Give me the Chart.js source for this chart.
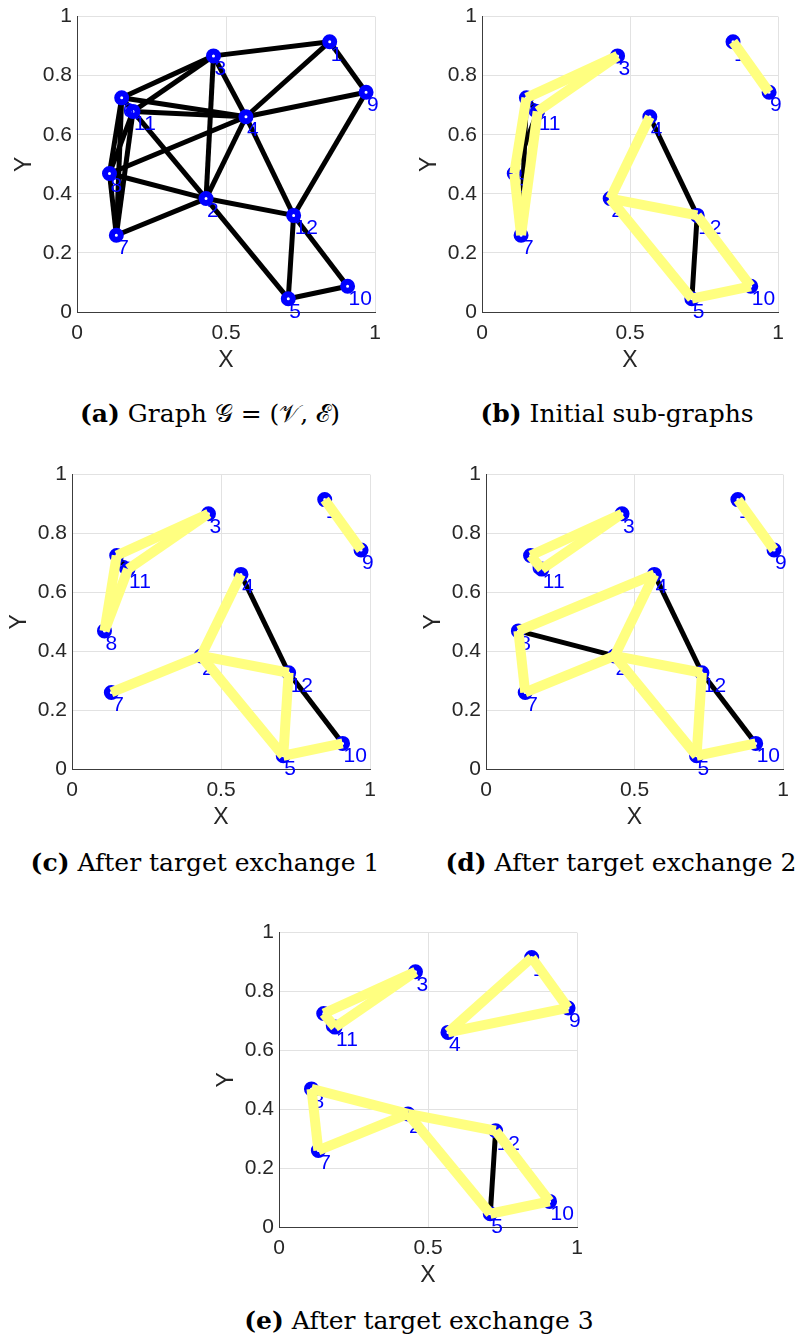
<!DOCTYPE html>
<html>
<head>
<meta charset="utf-8">
<title>Sub-graph target exchange</title>
<script src="https://cdn.jsdelivr.net/npm/chart.js@4.4.1/dist/chart.umd.min.js"></script>
<style>
  html, body { margin: 0; padding: 0; background: #ffffff; }
  body { width: 801px; height: 1342px; position: relative; overflow: hidden; }
  canvas { position: absolute; }
  .cap {
    position: absolute;
    white-space: nowrap;
    font-family: "DejaVu Serif", "Liberation Serif", serif;
    font-size: 25px;
    line-height: 30px;
    color: #000;
    transform: translateX(-50%);
  }
  .cap b { font-weight: bold; }
</style>
</head>
<body>
<canvas id="pa"></canvas>
<canvas id="pb"></canvas>
<canvas id="pc"></canvas>
<canvas id="pd"></canvas>
<canvas id="pe"></canvas>

<div class="cap" style="left:210px; top:399px;"><b>(a)</b> Graph &#x1D4A2; = (&#x1D4B1;, &#x2130;)</div>
<div class="cap" style="left:617px; top:399px;"><b>(b)</b> Initial sub-graphs</div>
<div class="cap" style="left:205px; top:848px;"><b>(c)</b> After target exchange 1</div>
<div class="cap" style="left:621px; top:848px;"><b>(d)</b> After target exchange 2</div>
<div class="cap" style="left:419px; top:1306px;"><b>(e)</b> After target exchange 3</div>

<script>
// ---- node positions ----
const nodeIds = [1, 2, 3, 4, 5, 6, 7, 8, 9, 10, 11, 12];
const nodeX = [0.848, 0.433, 0.458, 0.567, 0.709, 0.150, 0.132, 0.109, 0.970, 0.908, 0.188, 0.727];
const nodeY = [0.915, 0.384, 0.867, 0.661, 0.045, 0.725, 0.260, 0.469, 0.744, 0.087, 0.679, 0.327];

// ---- axis ticks ----
const xTicks = [0, 0.5, 1];
const xTickLabels = ['0', '0.5', '1'];
const yTicks = [0, 0.2, 0.4, 0.6, 0.8, 1];
const yTickLabels = ['0', '0.2', '0.4', '0.6', '0.8', '1'];

// ---- full graph edges ----
const edgesGraph = [
  [1, 3], [1, 4], [1, 9], [3, 6], [3, 11], [3, 2], [3, 4], [6, 4], [6, 11], [6, 8],
  [6, 7], [11, 4], [11, 2], [11, 7], [11, 8], [8, 4], [8, 2], [8, 7], [7, 2], [4, 9],
  [4, 2], [4, 12], [9, 12], [2, 12], [2, 5], [12, 5], [12, 10], [5, 10]
];

// ---- sub-graphs: tour edges (highlighted) and remaining in-group links ----
const toursInitial = [[3, 6], [6, 8], [8, 7], [7, 11], [11, 3], [4, 2], [2, 12], [2, 5], [5, 10], [10, 12], [1, 9]];
const linksInitial = [[6, 7], [11, 8], [6, 11], [4, 12], [12, 5]];

const toursSwap1 = [[3, 6], [6, 8], [8, 11], [11, 3], [7, 2], [2, 4], [2, 12], [12, 5], [5, 10], [2, 5], [1, 9]];
const linksSwap1 = [[6, 11], [4, 12], [12, 10]];

const toursSwap2 = [[3, 6], [6, 11], [11, 3], [8, 4], [8, 7], [7, 2], [2, 4], [2, 12], [12, 5], [5, 10], [2, 5], [1, 9]];
const linksSwap2 = [[8, 2], [4, 12], [12, 10]];

const toursSwap3 = [[3, 6], [6, 11], [11, 3], [4, 1], [1, 9], [9, 4], [8, 7], [7, 2], [8, 2], [2, 12], [12, 10], [10, 5], [5, 2]];
const linksSwap3 = [[12, 5]];

// ---- styling ----
const AXIS_FONT = '"Liberation Sans", Arial, Helvetica, sans-serif';
const INK = '#262626';
const BLUE = '#0000ff';
const TOUR_COLOR = 'rgb(255,255,128)';

function pointOf(id) {
  const i = nodeIds.indexOf(id);
  return { x: nodeX[i], y: nodeY[i] };
}

function edgeDatasets(edges, color, width, order) {
  return edges.map(([a, b]) => ({
    data: [pointOf(a), pointOf(b)],
    showLine: true,
    borderColor: color,
    borderWidth: width,
    borderCapStyle: 'butt',
    pointRadius: 0,
    pointHoverRadius: 0,
    clip: false,
    order: order
  }));
}

// blue node numbers, drawn right after the node markers
const nodeLabelPlugin = {
  id: 'nodeLabels',
  afterDatasetDraw(chart, args) {
    const ds = chart.data.datasets[args.index];
    if (!ds.nodeLabels) return;
    const ctx = chart.ctx;
    ctx.save();
    ctx.fillStyle = BLUE;
    ctx.font = '21px ' + AXIS_FONT;
    ctx.textAlign = 'left';
    ctx.textBaseline = 'middle';
    args.meta.data.forEach((el, i) => {
      ctx.fillText(String(ds.nodeLabels[i]), el.x + 1, el.y + 13);
    });
    ctx.restore();
  }
};

// chart-area placement of each panel on the page
const panels = [
  { canvas: 'pa', left: 77,  top: 13,  w: 298, h: 299, tours: [],           links: edgesGraph },
  { canvas: 'pb', left: 482, top: 13,  w: 296, h: 299, tours: toursInitial, links: linksInitial },
  { canvas: 'pc', left: 72,  top: 471, w: 298, h: 298, tours: toursSwap1,   links: linksSwap1 },
  { canvas: 'pd', left: 486, top: 471, w: 297, h: 298, tours: toursSwap2,   links: linksSwap2 },
  { canvas: 'pe', left: 279, top: 929, w: 298, h: 298, tours: toursSwap3,   links: linksSwap3 }
];

const Y_AXIS_W = 77, PAD_TOP = 14, PAD_RIGHT = 16, X_AXIS_H = 62;

panels.forEach(p => {
  const cv = document.getElementById(p.canvas);
  const cw = Y_AXIS_W + p.w + PAD_RIGHT;
  const ch = PAD_TOP + p.h + X_AXIS_H;
  cv.width = cw; cv.height = ch;
  cv.style.width = cw + 'px'; cv.style.height = ch + 'px';
  cv.style.left = (p.left - Y_AXIS_W) + 'px';
  cv.style.top = (p.top - PAD_TOP) + 'px';

  const nodes = {
    data: nodeIds.map(pointOf),
    nodeLabels: nodeIds,
    showLine: false,
    pointRadius: 4.5,
    pointHoverRadius: 4.5,
    pointBorderWidth: 6,
    pointBorderColor: BLUE,
    pointBackgroundColor: '#ffffff',
    clip: false,
    order: 2
  };

  const datasets = [
    ...edgeDatasets(p.tours, TOUR_COLOR, 10, 1),
    nodes,
    ...edgeDatasets(p.links, '#000000', 5, 3)
  ];

  new Chart(cv, {
    type: 'scatter',
    data: { datasets },
    plugins: [nodeLabelPlugin],
    options: {
      responsive: false,
      animation: false,
      devicePixelRatio: 1,
      events: [],
      layout: { padding: { top: PAD_TOP, right: PAD_RIGHT, left: 0, bottom: 0 } },
      plugins: { legend: { display: false }, tooltip: { enabled: false } },
      scales: {
        x: {
          type: 'linear', position: 'bottom', min: 0, max: 1,
          afterBuildTicks: s => { s.ticks = xTicks.map(v => ({ value: v })); },
          afterFit: s => { s.height = X_AXIS_H; },
          ticks: {
            autoSkip: false, maxRotation: 0, padding: 9, color: INK,
            font: { family: AXIS_FONT, size: 21 },
            callback: (v, i) => xTickLabels[i]
          },
          grid: { color: '#e2e2e2', lineWidth: 1, drawTicks: false },
          border: { display: true, color: '#3c3c3c', width: 1 },
          title: { display: true, text: 'X', color: INK, font: { family: AXIS_FONT, size: 23 }, padding: { top: 0, bottom: 0 } }
        },
        y: {
          type: 'linear', position: 'left', min: 0, max: 1,
          afterBuildTicks: s => { s.ticks = yTicks.map(v => ({ value: v })); },
          afterFit: s => { s.width = Y_AXIS_W; },
          ticks: {
            autoSkip: false, padding: 5, color: INK,
            font: { family: AXIS_FONT, size: 21 },
            callback: (v, i) => yTickLabels[i]
          },
          grid: { color: '#e2e2e2', lineWidth: 1, drawTicks: false },
          border: { display: true, color: '#3c3c3c', width: 1 },
          title: { display: true, text: 'Y', color: INK, font: { family: AXIS_FONT, size: 23 }, padding: { top: 11, bottom: 0 } }
        }
      }
    }
  });
});
</script>
</body>
</html>
